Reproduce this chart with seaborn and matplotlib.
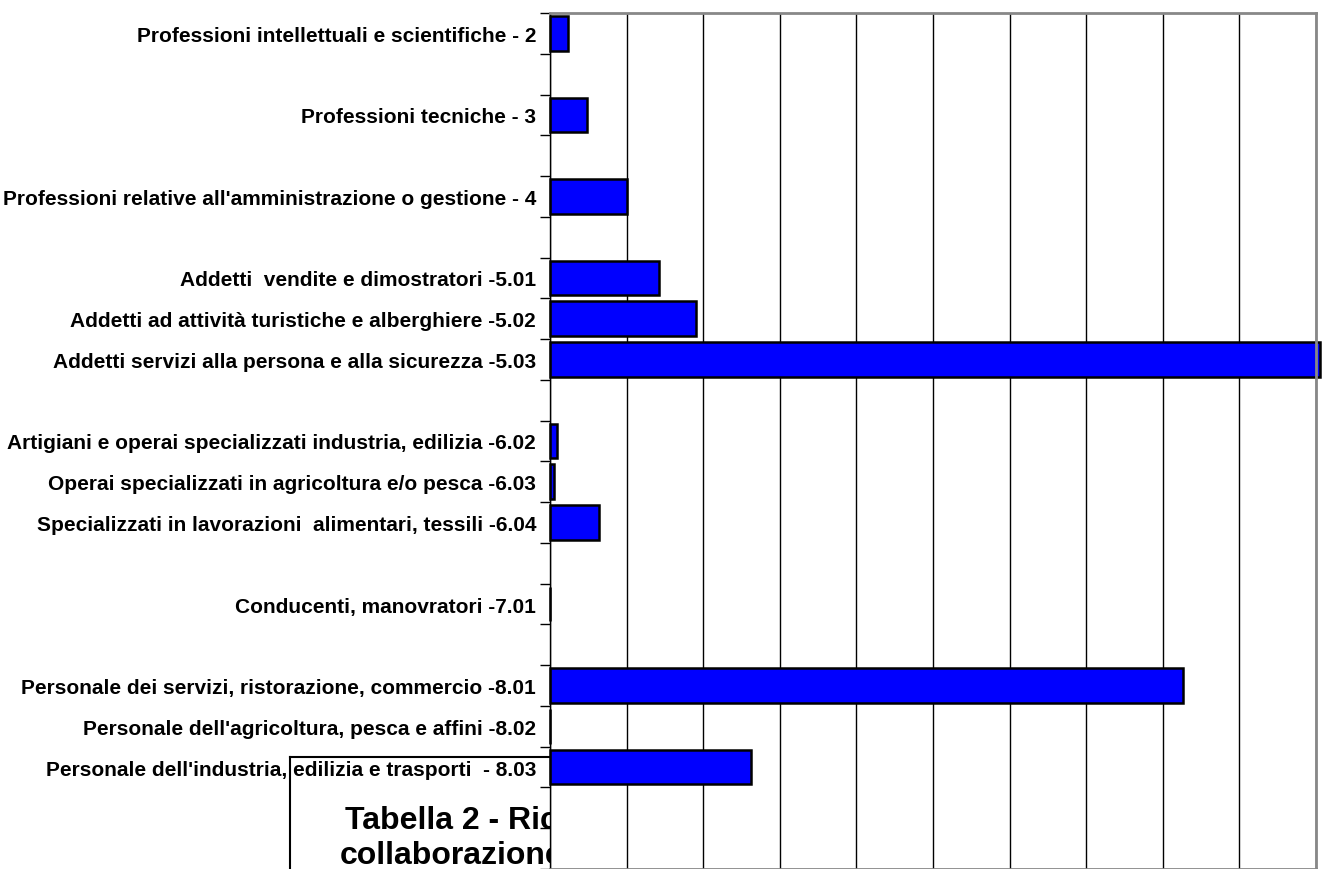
import numpy as np
import pandas as pd
import seaborn as sns
from matplotlib import pyplot as plt
from matplotlib.ticker import MultipleLocator

# categories (top to bottom) and bar lengths, in grid units
labels = [
    "Professioni intellettuali e scientifiche - 2",
    "Professioni tecniche - 3",
    "Professioni relative all'amministrazione o gestione - 4",
    "Addetti  vendite e dimostratori -5.01",
    "Addetti ad attività turistiche e alberghiere -5.02",
    "Addetti servizi alla persona e alla sicurezza -5.03",
    "Artigiani e operai specializzati industria, edilizia -6.02",
    "Operai specializzati in agricoltura e/o pesca -6.03",
    "Specializzati in lavorazioni  alimentari, tessili -6.04",
    "Conducenti, manovratori -7.01",
    "Personale dei servizi, ristorazione, commercio -8.01",
    "Personale dell'agricoltura, pesca e affini -8.02",
    "Personale dell'industria, edilizia e trasporti  - 8.03",
]
values = [0.24, 0.48, 1.0, 1.42, 1.9, 10.05, 0.09, 0.05, 0.64, 0.0, 8.26, 0.0, 2.63]
# empty slots follow these label indices
gap_after = [0, 1, 2, 5, 8, 9, 12, 12]

title_lines = ["Tabella 2 - Richieste di", "collaborazione"]

order = []
n_blank = 0
for i, lab in enumerate(labels):
    order.append(lab)
    for g in gap_after:
        if g == i:
            n_blank += 1
            order.append(" " * n_blank)

df = pd.DataFrame({"label": labels, "value": values})

sns.set_style("white")
plt.rcParams['font.family'] = ['Liberation Sans', 'DejaVu Sans']
plt.rcParams['text.color'] = 'black'
plt.rcParams['ytick.color'] = 'black'

fig = plt.figure(figsize=(13.42, 8.70), dpi=100)

# text box sitting behind the plot area
box = fig.add_axes([290/1342, -0.01, 400/1342, (870-758)/870 + 0.01], zorder=0)
box.set_xticks([])
box.set_yticks([])
for s in box.spines.values():
    s.set_color('black')
    s.set_linewidth(1.5)
box.text(345/1342, 1 - 829/870, title_lines[0], transform=fig.transFigure, fontsize=23,
         fontweight='bold', color='black', va='baseline')
box.text(340/1342, 1 - 864/870, title_lines[1], transform=fig.transFigure, fontsize=23,
         fontweight='bold', color='black', va='baseline')

ax = fig.add_axes([550/1342, 0.0, (1316-550)/1342, (870-14)/870], zorder=1)
ax.set_facecolor('white')
sns.barplot(data=df, x='value', y='label', order=order, orient='h', color='#0000ff',
            saturation=1, edgecolor='black', linewidth=1.8, width=0.85, ax=ax)
for p in ax.patches:
    p.set_clip_on(False)

ax.set_xlim(0, 10)
ax.set_ylim(20.43, -0.5)
ax.xaxis.set_major_locator(MultipleLocator(1))
ax.grid(axis='x', color='black', linewidth=1)
ax.set_axisbelow(True)
ax.set_xticklabels([])
ax.tick_params(axis='x', length=0)
ax.set_xlabel('')
ax.set_ylabel('')

ax.set_yticks(range(len(order)))
ax.set_yticklabels(order, fontsize=15, fontweight='bold', color='black')
ax.set_yticks(np.arange(len(order) + 1) - 0.5, minor=True)
ax.tick_params(axis='y', which='major', length=0, pad=10)
ax.tick_params(axis='y', which='minor', length=7, width=1, color='black', left=True)

ax.spines['left'].set_color('black')
ax.spines['left'].set_linewidth(1)
for side in ['top', 'right', 'bottom']:
    ax.spines[side].set_color('#888888')
    ax.spines[side].set_linewidth(2)

fig.savefig('out.png', dpi=100)
